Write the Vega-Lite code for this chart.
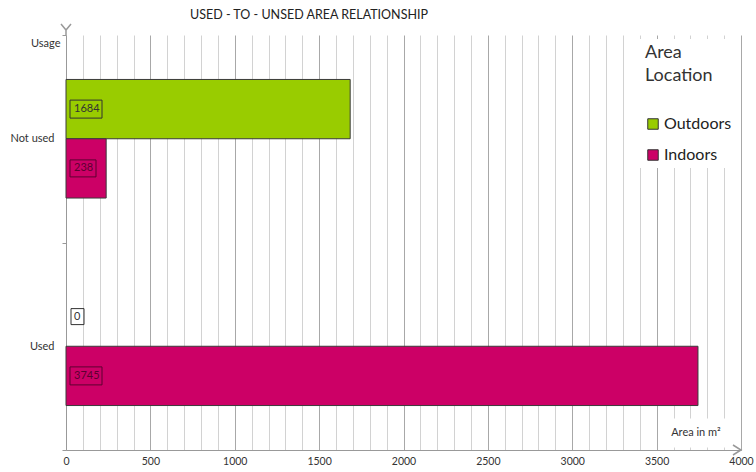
{
  "$schema": "https://vega.github.io/schema/vega-lite/v6.json",
  "width": 675,
  "height": 415,
  "autosize": {"type": "none"},
  "padding": {"left": 66, "top": 35, "right": 15, "bottom": 22},
  "background": "white",
  "config": {"font": "Lato", "view": {"stroke": null}},
  "title": {"text": "USED - TO - UNSED AREA RELATIONSHIP", "anchor": "start", "frame": "group", "dx": 124, "offset": 0, "fontSize": 12.5, "fontWeight": "normal", "color": "#222"},
  "data": {"values": [
    {"usage": "Not used", "location": "Outdoors", "area": 1684},
    {"usage": "Not used", "location": "Indoors", "area": 238},
    {"usage": "Used", "location": "Outdoors", "area": 0},
    {"usage": "Used", "location": "Indoors", "area": 3745}
  ]},
  "transform": [
    {"calculate": "'' + datum.area", "as": "lab"},
    {"calculate": "length(datum.lab)", "as": "len"}
  ],
  "layer": [
    {
      "mark": {"type": "bar", "stroke": "#3a3a3a", "strokeWidth": 1},
      "encoding": {
        "x": {"field": "area", "type": "quantitative", "scale": {"domain": [0, 4000], "nice": false},
          "axis": {"values": [0,100,200,300,400,500,600,700,800,900,1000,1100,1200,1300,1400,1500,1600,1700,1800,1900,2000,2100,2200,2300,2400,2500,2600,2700,2800,2900,3000,3100,3200,3300,3400,3500,3600,3700,3800,3900,4000],
            "labelExpr": "datum.value % 500 === 0 ? datum.label : ''", "labelOverlap": false, "labelFlush": false,
            "format": "d", "grid": true, "zindex": 0,
            "gridColor": {"condition": {"test": "datum.value % 500 === 0", "value": "#a8a8a8"}, "value": "#d2d2d2"},
            "ticks": false, "domainColor": "#999", "labelFontSize": 10.5, "labelColor": "#333", "labelPadding": 6, "title": null}},
        "y": {"field": "usage", "type": "nominal", "sort": ["Not used", "Used"], "scale": {"paddingInner": 0, "paddingOuter": 0},
          "axis": {"title": "Usage", "titleAngle": 0, "titleAlign": "right", "titleBaseline": "middle", "titleX": -6, "titleY": 8,
            "titleFontSize": 11, "titleFontWeight": "normal", "titleColor": "#333",
            "domainColor": "#999", "tickColor": "#999", "tickSize": 4, "tickBand": "extent", "labelPadding": 8,
            "labelFontSize": 11, "labelColor": "#333", "grid": false}},
        "yOffset": {"field": "location", "type": "nominal", "sort": ["Outdoors", "Indoors"], "scale": {"paddingInner": 0, "paddingOuter": 0.75}},
        "strokeOpacity": {"condition": {"test": "datum.area === 0", "value": 0}, "value": 1},
        "color": {"field": "location", "type": "nominal", "scale": {"domain": ["Outdoors", "Indoors"], "range": ["#99cc00", "#cc0066"]},
          "legend": {"title": ["Area", "Location"], "orient": "top-right", "offset": 4, "fillColor": "white", "padding": 5,
            "titleFontSize": 18, "titleFontWeight": "normal", "titleColor": "#333", "titleLineHeight": 23, "titlePadding": 31,
            "labelFontSize": 16, "labelColor": "#222", "symbolType": "square", "symbolSize": 110, "symbolStrokeColor": "#333",
            "symbolStrokeWidth": 1, "rowPadding": 15, "labelOffset": 3}}
      }
    },
    {
      "mark": {"type": "point", "filled": false, "size": 4, "strokeWidth": 1, "opacity": 1},
      "encoding": {
        "x": {"datum": 0, "type": "quantitative",
          "axis": {"values": [0,100,200,300,400,500,600,700,800,900,1000,1100,1200,1300,1400,1500,1600,1700,1800,1900,2000,2100,2200,2300,2400,2500,2600,2700,2800,2900,3000,3100,3200,3300,3400,3500,3600,3700,3800,3900,4000],
            "labelExpr": "datum.value % 500 === 0 ? datum.label : ''", "labelOverlap": false, "labelFlush": false,
            "format": "d", "grid": true, "zindex": 0,
            "gridColor": {"condition": {"test": "datum.value % 500 === 0", "value": "#a8a8a8"}, "value": "#d2d2d2"},
            "ticks": false, "domainColor": "#999", "labelFontSize": 10.5, "labelColor": "#333", "labelPadding": 6, "title": null}},
        "y": {"field": "usage", "type": "nominal", "sort": ["Not used", "Used"]},
        "yOffset": {"field": "location", "type": "nominal", "sort": ["Outdoors", "Indoors"]},
        "shape": {"field": "len", "type": "nominal", "scale": {"domain": [1, 3, 4], "range": ["M5,-8H18V8H5Z", "M4,-8.5H30V8.5H4Z", "M4,-9H36V9H4Z"]}, "legend": null},
        "stroke": {"condition": {"test": "datum.location === 'Indoors' && datum.area > 0", "value": "#5c0030"}, "value": "#333"}
      }
    },
    {
      "mark": {"type": "text", "align": "left", "baseline": "middle", "dx": 8, "fontSize": 11},
      "encoding": {
        "x": {"datum": 0, "type": "quantitative",
          "axis": {"values": [0,100,200,300,400,500,600,700,800,900,1000,1100,1200,1300,1400,1500,1600,1700,1800,1900,2000,2100,2200,2300,2400,2500,2600,2700,2800,2900,3000,3100,3200,3300,3400,3500,3600,3700,3800,3900,4000],
            "labelExpr": "datum.value % 500 === 0 ? datum.label : ''", "labelOverlap": false, "labelFlush": false,
            "format": "d", "grid": true, "zindex": 0,
            "gridColor": {"condition": {"test": "datum.value % 500 === 0", "value": "#a8a8a8"}, "value": "#d2d2d2"},
            "ticks": false, "domainColor": "#999", "labelFontSize": 10.5, "labelColor": "#333", "labelPadding": 6, "title": null}},
        "y": {"field": "usage", "type": "nominal", "sort": ["Not used", "Used"]},
        "yOffset": {"field": "location", "type": "nominal", "sort": ["Outdoors", "Indoors"]},
        "text": {"field": "lab"},
        "color": {"condition": {"test": "datum.location === 'Indoors' && datum.area > 0", "value": "#5c0030"}, "value": "#333"}
      }
    },
    {
      "data": {"values": [{"xpos": 4000, "ypos": "Used"}]},
      "layer": [
        {
          "mark": {"type": "point", "filled": true, "size": 4, "color": "white", "fill": "white", "fillOpacity": 1, "stroke": "white", "strokeWidth": 1, "opacity": 1, "shape": "M-81,-31H-3V-3H-81Z"},
          "encoding": {
            "x": {"field": "xpos", "type": "quantitative",
              "axis": {"values": [0,100,200,300,400,500,600,700,800,900,1000,1100,1200,1300,1400,1500,1600,1700,1800,1900,2000,2100,2200,2300,2400,2500,2600,2700,2800,2900,3000,3100,3200,3300,3400,3500,3600,3700,3800,3900,4000],
                "labelExpr": "datum.value % 500 === 0 ? datum.label : ''", "labelOverlap": false, "labelFlush": false,
                "format": "d", "grid": true, "zindex": 0,
                "gridColor": {"condition": {"test": "datum.value % 500 === 0", "value": "#a8a8a8"}, "value": "#d2d2d2"},
                "ticks": false, "domainColor": "#999", "labelFontSize": 10.5, "labelColor": "#333", "labelPadding": 6, "title": null}},
            "y": {"field": "ypos", "type": "nominal", "bandPosition": 1}
          }
        },
        {
          "mark": {"type": "text", "align": "center", "baseline": "middle", "dx": -45, "dy": -17, "fontSize": 11, "color": "#333", "text": "Area in m²"},
          "encoding": {
            "x": {"field": "xpos", "type": "quantitative",
              "axis": {"values": [0,100,200,300,400,500,600,700,800,900,1000,1100,1200,1300,1400,1500,1600,1700,1800,1900,2000,2100,2200,2300,2400,2500,2600,2700,2800,2900,3000,3100,3200,3300,3400,3500,3600,3700,3800,3900,4000],
                "labelExpr": "datum.value % 500 === 0 ? datum.label : ''", "labelOverlap": false, "labelFlush": false,
                "format": "d", "grid": true, "zindex": 0,
                "gridColor": {"condition": {"test": "datum.value % 500 === 0", "value": "#a8a8a8"}, "value": "#d2d2d2"},
                "ticks": false, "domainColor": "#999", "labelFontSize": 10.5, "labelColor": "#333", "labelPadding": 6, "title": null}},
            "y": {"field": "ypos", "type": "nominal", "bandPosition": 1}
          }
        },
        {
          "mark": {"type": "point", "filled": false, "size": 4, "stroke": "#999", "strokeWidth": 1.5, "opacity": 1, "shape": "M-8,-5L0,0L-8,5"},
          "encoding": {
            "x": {"field": "xpos", "type": "quantitative",
              "axis": {"values": [0,100,200,300,400,500,600,700,800,900,1000,1100,1200,1300,1400,1500,1600,1700,1800,1900,2000,2100,2200,2300,2400,2500,2600,2700,2800,2900,3000,3100,3200,3300,3400,3500,3600,3700,3800,3900,4000],
                "labelExpr": "datum.value % 500 === 0 ? datum.label : ''", "labelOverlap": false, "labelFlush": false,
                "format": "d", "grid": true, "zindex": 0,
                "gridColor": {"condition": {"test": "datum.value % 500 === 0", "value": "#a8a8a8"}, "value": "#d2d2d2"},
                "ticks": false, "domainColor": "#999", "labelFontSize": 10.5, "labelColor": "#333", "labelPadding": 6, "title": null}},
            "y": {"field": "ypos", "type": "nominal", "bandPosition": 1}
          }
        }
      ]
    },
    {
      "data": {"values": [{"xpos": 0, "ypos": "Not used"}]},
      "mark": {"type": "point", "filled": false, "size": 4, "stroke": "#999", "strokeWidth": 1.5, "opacity": 1, "shape": "M-5,-11L0,-5L5,-11M0,-5V0"},
      "encoding": {
        "x": {"field": "xpos", "type": "quantitative",
          "axis": {"values": [0,100,200,300,400,500,600,700,800,900,1000,1100,1200,1300,1400,1500,1600,1700,1800,1900,2000,2100,2200,2300,2400,2500,2600,2700,2800,2900,3000,3100,3200,3300,3400,3500,3600,3700,3800,3900,4000],
            "labelExpr": "datum.value % 500 === 0 ? datum.label : ''", "labelOverlap": false, "labelFlush": false,
            "format": "d", "grid": true, "zindex": 0,
            "gridColor": {"condition": {"test": "datum.value % 500 === 0", "value": "#a8a8a8"}, "value": "#d2d2d2"},
            "ticks": false, "domainColor": "#999", "labelFontSize": 10.5, "labelColor": "#333", "labelPadding": 6, "title": null}},
        "y": {"field": "ypos", "type": "nominal", "bandPosition": 0}
      }
    }
  ]
}
